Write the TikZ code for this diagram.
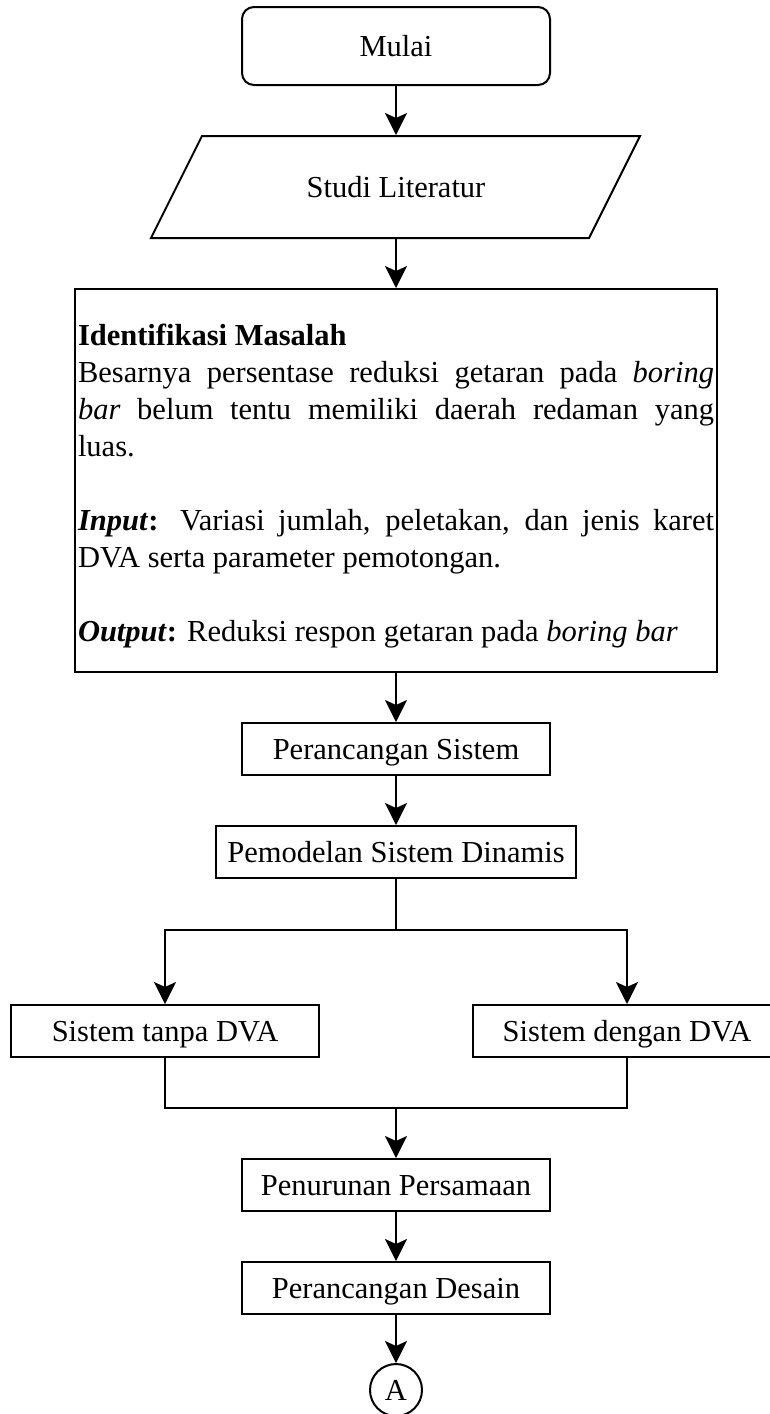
\documentclass[tikz,border=0pt]{standalone}
\usepackage{fontspec}
\setmainfont{Liberation Serif}
\usetikzlibrary{positioning, arrows.meta}
\setlength{\parindent}{0pt}

\begin{document}
\begin{tikzpicture}[x=1pt, y=1pt, node distance=49pt, line width=2pt,
  >={Stealth[length=22pt,width=22pt,inset=5pt]},
  every node/.style={font=\fontsize{30.5}{37}\selectfont},
  proc node/.style={rectangle,draw,minimum width=308pt,minimum height=52pt,inner sep=3pt,
    text height=20pt,text depth=0pt},
  start node/.style={proc node,rounded corners=12pt,minimum height=78pt},
  io node/.style={rectangle,minimum width=436pt,minimum height=102pt,text height=20pt,text depth=0pt},
  note node/.style={rectangle,draw,text width=636pt,inner xsep=3pt,minimum height=383pt,align=justify},
  conn node/.style={circle,draw,minimum size=52pt,inner sep=0pt,text height=20pt,text depth=0pt}]

\useasboundingbox (0,0) rectangle (770,-1414);
\clip (0,0) rectangle (770,-1414);

\node[start node] (mulai) at (396,-46) {Mulai};
\node[io node] (studi) [below=of mulai] {Studi Literatur};
\draw ([xshift=25pt,yshift=-1pt]studi.north west) -- ([xshift=25pt,yshift=-1pt]studi.north east)
  -- ([xshift=-26pt,yshift=1pt]studi.south east) -- ([xshift=-26pt,yshift=1pt]studi.south west) -- cycle;
\node[note node] (masalah) [below=of studi] {\rule{0pt}{32pt}\textbf{Identifikasi Masalah}\\
Besarnya persentase reduksi getaran pada \textit{boring}\linebreak
\textit{bar} belum tentu memiliki daerah redaman yang\linebreak
luas.\\[37pt]
\textbf{\textit{Input}:} Variasi jumlah, peletakan, dan jenis karet\linebreak
DVA serta parameter pemotongan.\\[37pt]
\textbf{\textit{Output}:} Reduksi respon getaran pada \textit{boring bar}};
\node[proc node] (rancang) [below=of masalah] {Perancangan Sistem};
\node[proc node, minimum width=360pt] (model) [below=of rancang] {Pemodelan Sistem Dinamis};
\node[proc node] (tanpa) [below=125pt of model, xshift=-231pt] {Sistem tanpa DVA};
\node[proc node] (dengan) [below=125pt of model, xshift=231pt] {Sistem dengan DVA};
\coordinate[below=50pt of tanpa] (gabung);
\node[proc node] (turun) [below=100pt of tanpa, xshift=231pt] {Penurunan Persamaan};
\node[proc node] (desain) [below=of turun] {Perancangan Desain};
\node[conn node] (A) [below=48pt of desain] {A};

\path[->]
(mulai) edge (studi)
(studi) edge (masalah)
(masalah) edge (rancang)
(rancang) edge (model)
(turun) edge (desain)
(desain) edge (A)
;

\draw[->] (model.south) -- ++(0,-51) -| (tanpa);
\draw[->] (model.south) -- ++(0,-51) -| (dengan);
\draw (tanpa) -- (gabung) -| (dengan.south);
\draw[->] (gabung -| turun) -- (turun);

\end{tikzpicture}
\end{document}
